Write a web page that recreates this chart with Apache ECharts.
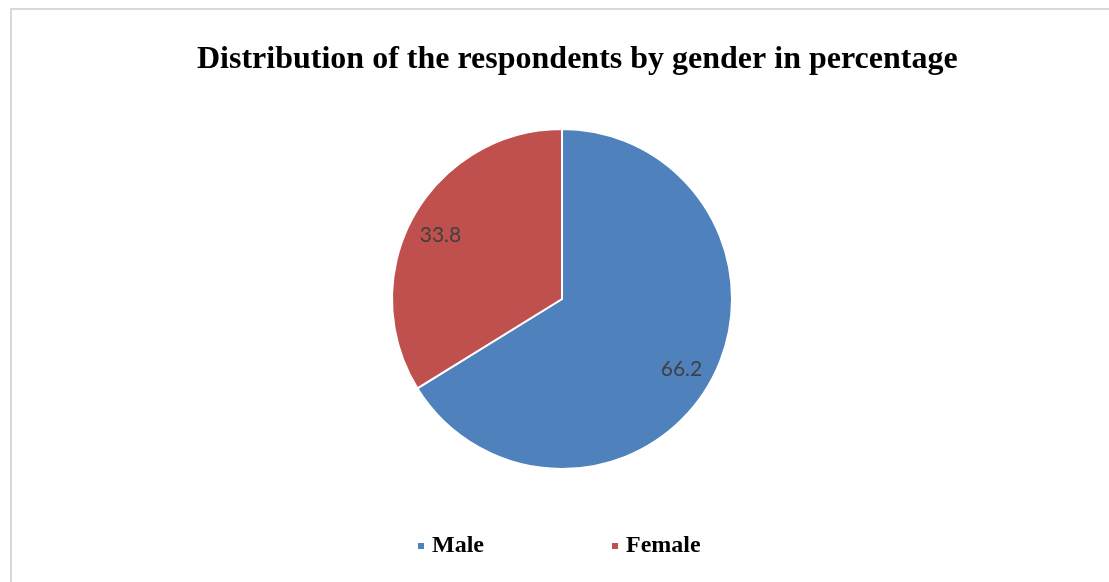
<!DOCTYPE html>
<html><head><meta charset="utf-8">
<script src="https://cdn.jsdelivr.net/npm/echarts@6/dist/echarts.min.js"></script>
<style>
html,body{margin:0;padding:0;background:#fff;}
#frame{position:absolute;left:10px;top:8px;width:1110px;height:590px;border:2px solid #d9d9d9;box-sizing:border-box;}
#chart{position:absolute;left:0;top:0;width:1109px;height:582px;}
</style></head>
<body>
<div id="frame"></div>
<div id="chart"></div>
<script>
const titleText = 'Distribution of the respondents by gender in percentage';
const categories = ['Male', 'Female'];
const values = [66.2, 33.8];
const colors = ['#4F81BD', '#C0504D'];

const data = categories.map((c, i) => ({ name: c, value: values[i], itemStyle: { color: colors[i] } }));
const chart = echarts.init(document.getElementById('chart'));
chart.setOption({
  animation: false,
  title: {
    text: titleText, left: 192, top: 39,
    textStyle: { fontFamily: 'Liberation Serif', fontWeight: 'bold', fontSize: 32, color: '#000' }
  },
  legend: {
    data: categories, bottom: 19, left: 411, itemWidth: 8, itemHeight: 8, itemGap: 126,
    icon: 'rect',
    textStyle: { fontFamily: 'Liberation Serif', fontWeight: 'bold', fontSize: 24, color: '#000', padding: [0, 0, 0, 2] }
  },
  series: [
    {
      type: 'pie', center: [562, 299], radius: [0, 170], startAngle: 90, clockwise: true,
      data: data,
      itemStyle: { borderColor: '#fff', borderWidth: 2 },
      label: { show: false }, labelLine: { show: false }, emphasis: { disabled: true }
    },
    {
      type: 'pie', center: [562, 299], radius: [100, 170], startAngle: 90, clockwise: true, silent: true,
      data: categories.map((c, i) => ({ name: c, value: values[i], itemStyle: { color: 'transparent' } })),
      legendHoverLink: false,
      label: { show: true, position: 'inside', formatter: '{c}', fontFamily: 'Lato', fontSize: 21, color: '#404040', offset: [-1, 3] },
      labelLine: { show: false }, emphasis: { disabled: true }
    }
  ]
});
</script>
</body></html>
